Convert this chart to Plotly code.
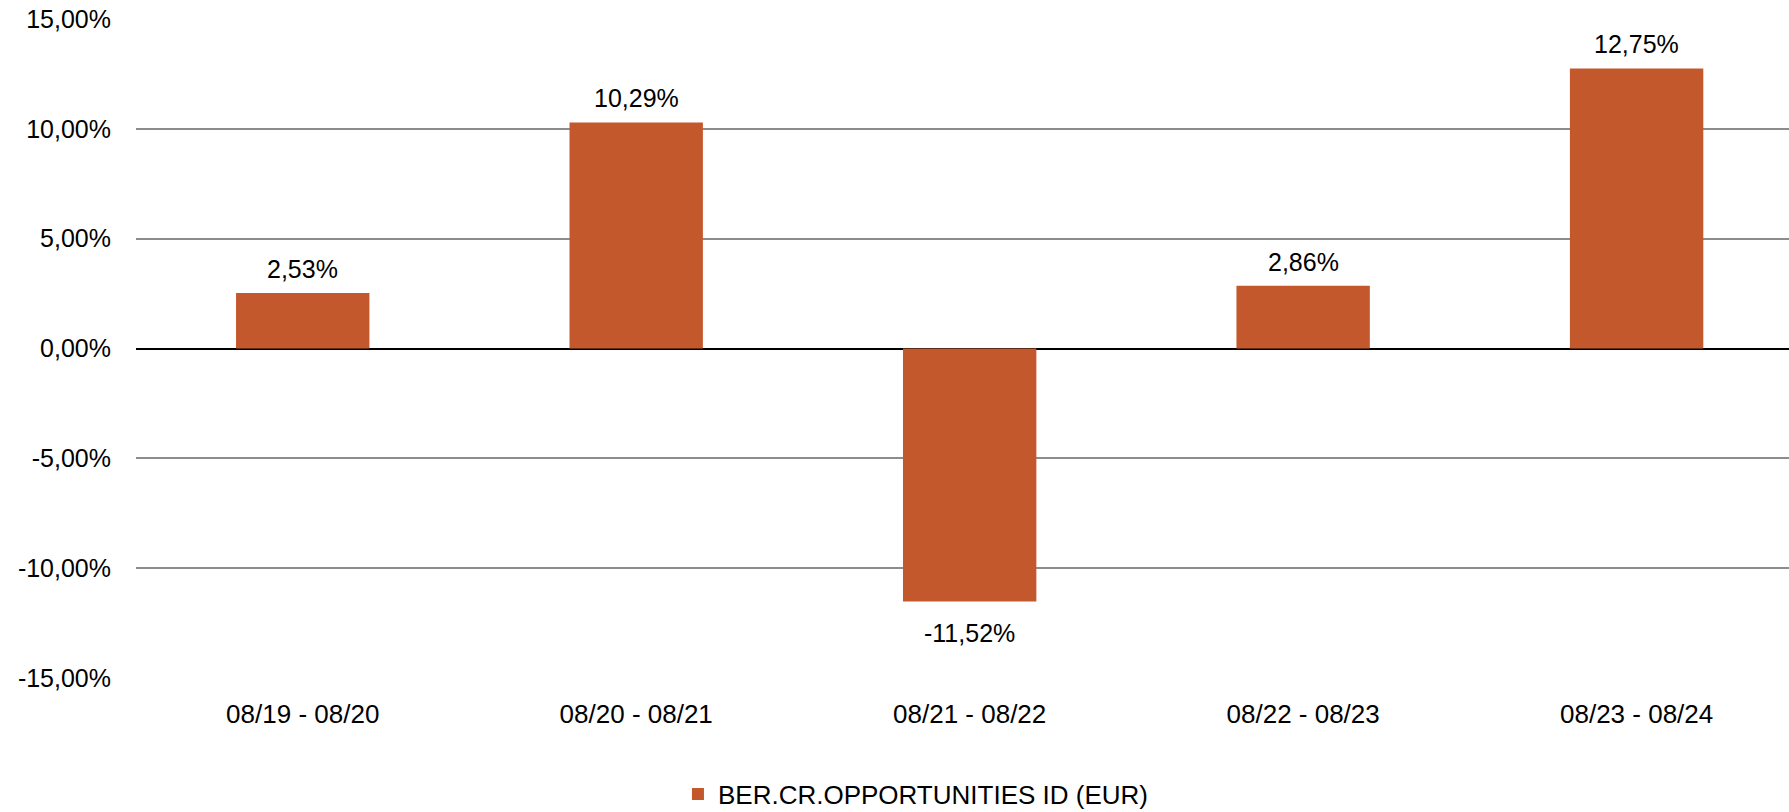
import plotly.graph_objects as go

# Annual performance periods and returns (%)
periods = ["08/19 - 08/20", "08/20 - 08/21", "08/21 - 08/22", "08/22 - 08/23", "08/23 - 08/24"]
returns = [2.53, 10.29, -11.52, 2.86, 12.75]
series_name = "BER.CR.OPPORTUNITIES ID (EUR)"
y_ticks = [-15, -10, -5, 0, 5, 10, 15]


def pct(v):
    """European-style percent label with a plain hyphen for negatives."""
    return f"{v:.2f}".replace(".", ",") + "%"


BAR_COLOR = "#C4582D"
FONT = "Liberation Sans, Arial, sans-serif"

fig = go.Figure()
fig.add_trace(go.Bar(
    x=list(range(len(periods))),
    y=returns,
    name=series_name,
    marker=dict(color=BAR_COLOR, line=dict(width=0)),
    width=0.4,
    showlegend=True,
))

# Value labels above positive bars and below negative ones
for i, v in enumerate(returns):
    fig.add_annotation(
        x=i, y=v, xref="x", yref="y",
        text=pct(v),
        showarrow=False,
        yanchor="middle",
        yshift=24 if v >= 0 else -31,
        font=dict(family=FONT, size=25, color="#000000"),
    )

fig.update_layout(
    width=1789,
    height=812,
    margin=dict(l=136, r=0, t=19, b=134),
    paper_bgcolor="white",
    plot_bgcolor="white",
    font=dict(family=FONT, size=25, color="#000000"),
    showlegend=True,
    legend=dict(
        orientation="h",
        xref="container", yref="container",
        x=0.512, xanchor="center",
        y=0.022, yanchor="middle",
        font=dict(family=FONT, size=26, color="#000000"),
        itemclick=False,
        itemwidth=30,
    ),
)

fig.update_xaxes(
    tickmode="array",
    tickvals=list(range(len(periods))),
    ticktext=periods,
    range=[-0.5, 4.457],
    showgrid=False,
    showline=False,
    ticks="",
    ticklabelstandoff=18,
    tickfont=dict(family=FONT, size=26, color="#000000"),
)

fig.update_yaxes(
    range=[-15, 15],
    tickmode="array",
    tickvals=y_ticks,
    ticktext=[pct(t) for t in y_ticks],
    showgrid=True,
    gridcolor="#8C8C8C",
    gridwidth=2,
    zeroline=True,
    zerolinecolor="#000000",
    zerolinewidth=2,
    showline=False,
    ticks="",
    ticklabelstandoff=24,
    tickfont=dict(family=FONT, size=25, color="#000000"),
)

fig.write_html("out.html")
